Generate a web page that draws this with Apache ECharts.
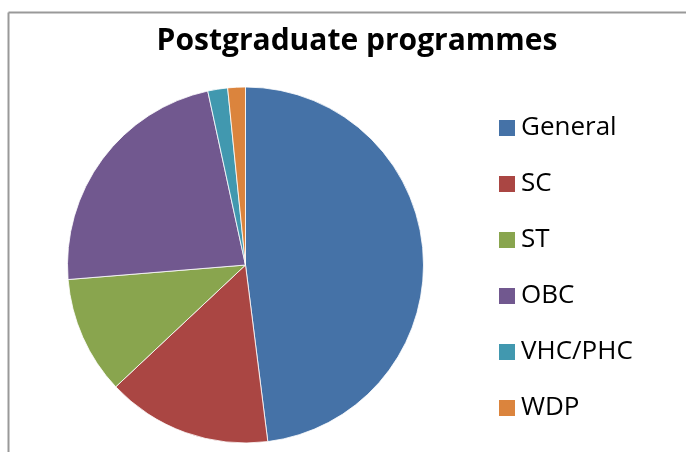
<!DOCTYPE html>
<html>
<head>
<meta charset="utf-8">
<script src="https://cdn.jsdelivr.net/npm/echarts@6/dist/echarts.min.js"></script>
<style>
html, body { margin: 0; padding: 0; background: #fff; }
#main { width: 686px; height: 452px; }
</style>
</head>
<body>
<div id="main"></div>
<script>
// categories & shares (percent)
var categories = ['General', 'SC', 'ST', 'OBC', 'VHC/PHC', 'WDP'];
var shares = [48.0, 15.0, 10.7, 22.9, 1.8, 1.6];
var colors = ['#4572A7', '#AA4643', '#89A54E', '#71588F', '#4198AF', '#DB843D'];

var chart = echarts.init(document.getElementById('main'));

var pieData = [];
for (var i = 0; i < categories.length; i++) {
	pieData.push({ name: categories[i], value: shares[i] });
}

var option = {
	animation: false,
	color: colors,
	title: {
		text: 'Postgraduate programmes',
		left: 352,
		top: 21,
		textAlign: 'center',
		textStyle: {
			fontFamily: 'Open Sans',
			fontWeight: 'bold',
			fontSize: 30,
			color: '#000'
		}
	},
	legend: {
		orient: 'vertical',
		left: 492,
		top: 110,
		height: 340,
		itemWidth: 18,
		itemHeight: 18,
		itemGap: 30,
		icon: 'rect',
		textStyle: {
			fontFamily: 'Open Sans',
			fontSize: 26,
			lineHeight: 26,
			color: '#000',
			padding: [0, 0, 0, 0]
		},
		data: categories
	},
	graphic: [
		{ type: 'line', shape: { x1: 8.5, y1: 12.5, x2: 686, y2: 12.5 }, style: { stroke: '#999', lineWidth: 2 } },
		{ type: 'line', shape: { x1: 8.5, y1: 12.5, x2: 8.5, y2: 452 }, style: { stroke: '#999', lineWidth: 2 } }
	],
	series: [{
		type: 'pie',
		center: [245.5, 265],
		radius: [0, 178],
		startAngle: 90,
		clockwise: true,
		label: { show: false },
		labelLine: { show: false },
		emphasis: { disabled: true },
		itemStyle: { borderColor: '#fff', borderWidth: 0.8 },
		data: pieData
	}]
};
chart.setOption(option);
</script>
</body>
</html>
